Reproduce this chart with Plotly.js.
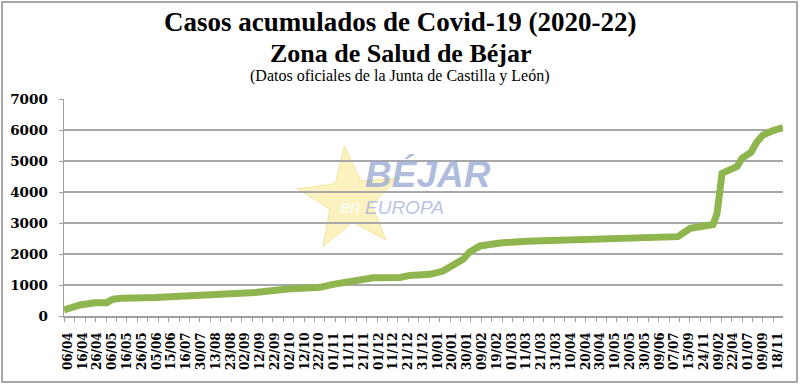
<!DOCTYPE html>
<html>
<head>
<meta charset="utf-8">
<script src="https://cdn.plot.ly/plotly-3.0.1.min.js"></script>
<style>
  html, body { margin: 0; padding: 0; background: #ffffff; }
  #chart { width: 800px; height: 385px; }
</style>
</head>
<body>
<div id="chart"></div>
<script>
// ---- Data ----
const tickLabels = ["06/04","16/04","26/04","06/05","16/05","26/05","05/06","15/06","16/07","30/07",
  "13/08","23/08","02/09","12/09","22/09","02/10","12/10","22/10","01/11","11/11",
  "21/11","01/12","11/12","21/12","31/12","10/01","20/01","30/01","09/02","19/02",
  "01/03","11/03","21/03","31/03","10/04","20/04","30/04","10/05","20/05","30/05",
  "09/06","07/07","15/09","24/11","09/02","22/04","01/07","09/09","18/11"];
const tickIndex = tickLabels.map((_, i) => i);

// position along the category axis (label index units) and cumulative cases
const pointIndex = [-0.27, 0.81, 1.83, 2.62, 3.04, 3.63, 5.88, 8.11, 10.39, 12.64,
  14.87, 16.02, 17.04, 17.92, 19.54, 20.62, 22.45, 23.12, 24.48, 25.35,
  26.71, 27.18, 27.86, 29.21, 31.03, 32.59, 34.14, 36.44, 40.9, 41.24,
  42.06, 42.94, 43.61, 43.88, 44.08, 44.22, 44.76, 45.23, 45.57, 46.18,
  46.58, 46.99, 47.67, 48.34];
const cases = [200, 355, 430, 430, 540, 575, 600, 645, 690, 760,
  870, 905, 925, 1020, 1180, 1235, 1245, 1310, 1345, 1450,
  1830, 2075, 2260, 2355, 2410, 2430, 2450, 2525, 2535, 2560,
  2830, 2870, 2950, 3300, 3960, 4600, 4720, 4820, 5090, 5280,
  5620, 5840, 5980, 6080];

const yTicks = [0, 1000, 2000, 3000, 4000, 5000, 6000, 7000];

// ---- Layout helpers (pixel -> paper) ----
const L = 64, T = 99, W = 719, H = 217;
const px = x => (x - L) / W;
const py = y => (T + H - y) / H;

// watermark star
function starPath(cx, cy, R, r, rot) {
  let d = "";
  for (let i = 0; i < 10; i++) {
    const rad = (i % 2 === 0) ? R : r;
    const a = (-90 + rot + i * 36) * Math.PI / 180;
    const x = cx + rad * Math.cos(a), y = cy + rad * Math.sin(a);
    d += (i === 0 ? "M" : "L") + px(x).toFixed(4) + "," + py(y).toFixed(4);
  }
  return d + "Z";
}

const trace = {
  x: pointIndex,
  y: cases,
  type: "scatter",
  mode: "lines",
  line: { color: "#8fb64e", width: 7, shape: "linear" },
  hoverinfo: "skip"
};

const serif = "'DejaVu Serif', Georgia, serif";
const titleSerif = "'Liberation Serif', 'Times New Roman', serif";
const sans = "'Liberation Sans', Arial, sans-serif";

const layout = {
  width: 800, height: 385,
  margin: { l: L, r: 800 - L - W, t: T, b: 385 - T - H },
  paper_bgcolor: "#ffffff",
  plot_bgcolor: "#ffffff",
  showlegend: false,
  xaxis: {
    type: "linear",
    range: [-0.27, 48.34],
    tickmode: "array",
    tickvals: tickIndex,
    ticktext: tickLabels,
    tickangle: -90,
    ticks: "",
    showgrid: false,
    zeroline: false,
    showline: true,
    linecolor: "#a0a0a0",
    linewidth: 1.5,
    ticklabelstandoff: 10,
    tickfont: { family: serif, size: 12, color: "#000", weight: "bold" },
    minor: { tickmode: "linear", tick0: -0.25, dtick: 0.705, ticks: "outside", ticklen: 4, tickcolor: "#a0a0a0", tickwidth: 1, showgrid: false }
  },
  yaxis: {
    range: [0, 7000],
    tickmode: "array",
    tickvals: yTicks,
    ticktext: yTicks.map(String),
    ticks: "outside",
    ticklen: 4,
    tickcolor: "#a0a0a0",
    showgrid: true,
    gridcolor: "#a8a8a8",
    gridwidth: 1.5,
    zeroline: false,
    showline: true,
    linecolor: "#a0a0a0",
    linewidth: 1.5,
    ticklabelstandoff: 8,
    tickfont: { family: serif, size: 13.5, color: "#000", weight: "bold" }
  },
  shapes: [
    { type: "path", xref: "paper", yref: "paper", layer: "below",
      path: starPath(350, 200, 54, 22, -6),
      fillcolor: "rgba(250,238,170,0.75)", line: { color: "rgba(240,222,140,0.8)", width: 1 } },
    { type: "rect", xref: "paper", yref: "paper", layer: "above",
      x0: px(2), x1: px(797), y0: py(382), y1: py(2),
      line: { color: "#8c8c8c", width: 1.5 }, fillcolor: "rgba(0,0,0,0)" }
  ],
  annotations: [
    { text: "<b>Casos acumulados de Covid-19 (2020-22)</b>", xref: "paper", yref: "paper",
      x: px(400), y: py(22), xanchor: "center", yanchor: "middle", showarrow: false,
      font: { family: titleSerif, size: 27, color: "#000" } },
    { text: "<b>Zona de Salud de Béjar</b>", xref: "paper", yref: "paper",
      x: px(401), y: py(53), xanchor: "center", yanchor: "middle", showarrow: false,
      font: { family: titleSerif, size: 26, color: "#000" } },
    { text: "(Datos oficiales de la Junta de Castilla y León)", xref: "paper", yref: "paper",
      x: px(399), y: py(76), xanchor: "center", yanchor: "middle", showarrow: false,
      font: { family: titleSerif, size: 16, color: "#000" } },
    { text: "<b><i>BÉJAR</i></b>", xref: "paper", yref: "paper",
      x: px(363), y: py(174), xanchor: "left", yanchor: "middle", showarrow: false,
      font: { family: sans, size: 37, color: "rgba(150,166,212,0.75)" } },
    { text: "<i>EUROPA</i>", xref: "paper", yref: "paper",
      x: px(363), y: py(207), xanchor: "left", yanchor: "middle", showarrow: false,
      font: { family: sans, size: 19, color: "rgba(160,175,220,0.75)" } },
    { text: "<i>en</i>", xref: "paper", yref: "paper",
      x: px(362), y: py(207), xanchor: "right", yanchor: "middle", showarrow: false,
      font: { family: sans, size: 18, color: "#ffffff" } }
  ]
};

Plotly.newPlot("chart", [trace], layout, { staticPlot: true, displayModeBar: false });
</script>
</body>
</html>
